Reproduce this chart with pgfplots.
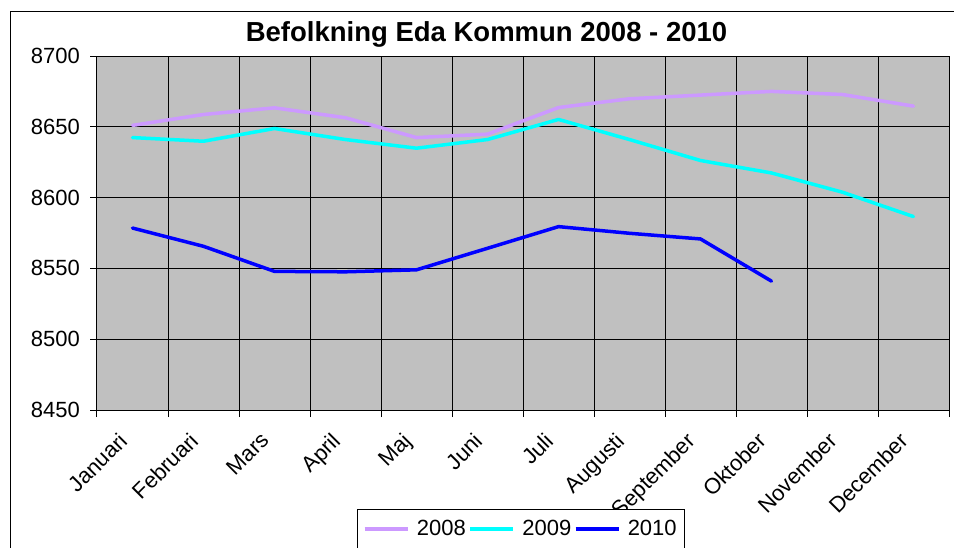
\documentclass[border=0pt]{standalone}
\usepackage{pgfplots}
\pgfplotsset{compat=1.18}
\usepackage{pgfplotstable}
\usepackage{fontspec}
\setmainfont{Liberation Sans}
\definecolor{bg}{RGB}{192,192,192}
\definecolor{c08}{RGB}{204,153,255}
\definecolor{c09}{RGB}{0,255,255}
\definecolor{c10}{RGB}{0,0,255}
\definecolor{frame}{RGB}{128,128,128}

\pgfplotstableread{
x y
0.5 8651
1.5 8658.7
2.5 8663.4
3.5 8656.4
4.5 8642.4
5.5 8644.8
6.5 8663.6
7.5 8669.8
8.5 8672.4
9.5 8675
10.5 8672.8
11.5 8664.6
}\tblA
\pgfplotstableread{
x y
0.5 8642.4
1.5 8639.8
2.5 8648.8
3.5 8641
4.5 8634.9
5.5 8641
6.5 8655.2
7.5 8641
8.5 8626.2
9.5 8617.4
10.5 8603.8
11.5 8586.6
}\tblB
\pgfplotstableread{
x y
0.5 8578.5
1.5 8565.6
2.5 8547.9
3.5 8547.6
4.5 8549
5.5 8564.2
6.5 8579.5
7.5 8574.8
8.5 8570.8
9.5 8541
}\tblC

\begin{document}
\begin{tikzpicture}
\useasboundingbox (0pt,0pt) rectangle (954pt,-548pt);
\draw[black,line width=1pt] (10pt,-12pt) rectangle (975pt,-580pt);
\begin{axis}[
  at={(97pt,-410pt)}, anchor=south west,
  scale only axis, width=852pt, height=354pt,
  xmin=0, xmax=12, ymin=8450, ymax=8700,
  axis x line*=bottom, axis y line*=left,
  axis line style={black, line width=1pt},
  axis background/.style={fill=bg, draw=frame, line width=1pt},
  xtick={0,1,...,12},
  x tick label as interval,
  xticklabels={Januari,Februari,Mars,April,Maj,Juni,Juli,Augusti,September,Oktober,November,December},
  ytick={8450,8500,...,8700},
  xmajorgrids, ymajorgrids,
  grid style={black, line width=1pt},
  tick style={black, line width=1pt},
  major tick length=7pt,
  tick align=outside,
  /pgf/number format/.cd, 1000 sep={}, assume math mode=true, /pgfplots/.cd,
  tick label style={font=\fontsize{22}{26}\selectfont},
  xticklabel style={xshift=-15pt, yshift=-14pt, rotate=45, anchor=north east, inner sep=0pt},
  yticklabel style={anchor=east, inner sep=0pt, xshift=-10pt},
  title={Befolkning Eda Kommun 2008 - 2010},
  title style={at={(0.5,1)}, anchor=base, xshift=-36.5pt, yshift=9pt, font=\fontsize{27.5}{33}\selectfont\bfseries},
  legend columns=3,
  legend image code/.code={\draw[#1, line cap=butt] (0pt,0pt) -- (43pt,0pt);},
  legend style={at={(0.4977,-0.2797)}, anchor=north, draw=black, line width=1pt,
    inner sep=5.5pt, font=\fontsize{22}{26}\selectfont,
    nodes={inner xsep=2.5pt, inner ysep=5.5pt},
    /tikz/every odd column/.append style={column sep=5pt}},
]
\addplot[c08, line width=3.5pt, line join=round, line cap=round] table {\tblA};
\addlegendentry{2008}
\addplot[c09, line width=3.5pt, line join=round, line cap=round] table {\tblB};
\addlegendentry{2009}
\addplot[c10, line width=3.5pt, line join=round, line cap=round] table {\tblC};
\addlegendentry{2010}
\end{axis}
\end{tikzpicture}
\end{document}
